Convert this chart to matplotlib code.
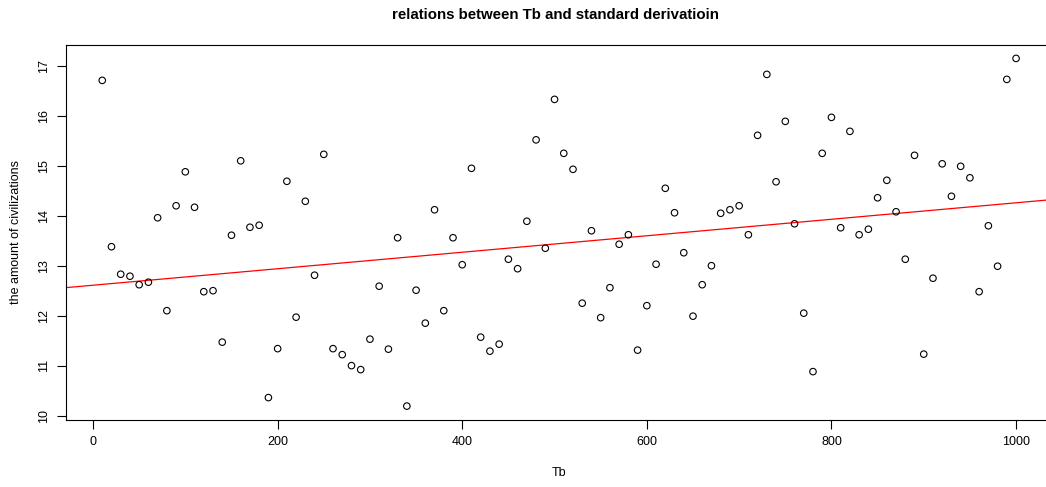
import matplotlib
matplotlib.use('Agg')
import matplotlib.pyplot as plt
import numpy as np

plt.rcParams['font.family'] = ['Liberation Sans', 'DejaVu Sans']

# Tb values and measured standard deviations
tb = list(range(10, 1001, 10))
sd = [16.71, 13.38, 12.83, 12.79, 12.62, 12.67, 13.96, 12.10, 14.20, 14.88,
      14.17, 12.48, 12.50, 11.47, 13.61, 15.10, 13.77, 13.81, 10.36, 11.34,
      14.69, 11.97, 14.29, 12.81, 15.23, 11.34, 11.22, 11.00, 10.92, 11.53,
      12.59, 11.33, 13.56, 10.19, 12.51, 11.85, 14.12, 12.10, 13.56, 13.02,
      14.95, 11.57, 11.29, 11.43, 13.13, 12.94, 13.89, 15.52, 13.35, 16.33,
      15.25, 14.93, 12.25, 13.70, 11.96, 12.56, 13.43, 13.62, 11.31, 12.20,
      13.03, 14.55, 14.06, 13.26, 11.99, 12.62, 13.00, 14.05, 14.12, 14.20,
      13.62, 15.61, 16.83, 14.68, 15.89, 13.84, 12.05, 10.88, 15.25, 15.97,
      13.76, 15.69, 13.62, 13.73, 14.36, 14.71, 14.08, 13.13, 15.21, 11.23,
      12.75, 15.04, 14.39, 14.99, 14.76, 12.48, 13.80, 12.99, 16.73, 17.15]

x_ticks = [0, 200, 400, 600, 800, 1000]
y_ticks = [10, 11, 12, 13, 14, 15, 16, 17]

W, H = 1046, 487
fig = plt.figure(figsize=(W / 100, H / 100), dpi=100)
# plot region runs a little past the right edge of the picture
ax = fig.add_axes([65.7 / W, 1 - 420 / H, (1052.6 - 65.7) / W, (420 - 44.5) / H])

x = np.array(tb, dtype=float)
y = np.array(sd)
ax.scatter(x, y, s=22, facecolors='none', edgecolors='black', linewidths=0.8, zorder=3)

# regression line across the whole plot region (like abline(lm))
slope, intercept = np.polyfit(x, y, 1)
xr = x.max() - x.min()
yr = y.max() - y.min()
xlim = (x.min() - 0.04 * xr, x.max() + 0.04 * xr)
ylim = (y.min() - 0.04 * yr, y.max() + 0.04 * yr)
xs = np.array(xlim)
ax.plot(xs, intercept + slope * xs, color='red', lw=0.9, zorder=2)
ax.set_xlim(xlim)
ax.set_ylim(ylim)

ax.set_xticks(x_ticks)
ax.set_yticks(y_ticks)
ax.tick_params(direction='out', length=6.5, width=0.8, labelsize=9, pad=5)
ax.set_yticklabels([str(v) for v in y_ticks], rotation=90, va='center')
for s in ax.spines.values():
    s.set_linewidth(0.8)

ax.set_xlabel('Tb', fontsize=9, labelpad=14)
ax.set_ylabel('the amount of civilizations', fontsize=9, labelpad=11)
fig.text(555.5 / W, 1 - 15 / H, 'relations between Tb and standard derivatioin',
         ha='center', va='center', fontsize=10.8, fontweight='bold')

fig.savefig('out.png', dpi=100)
